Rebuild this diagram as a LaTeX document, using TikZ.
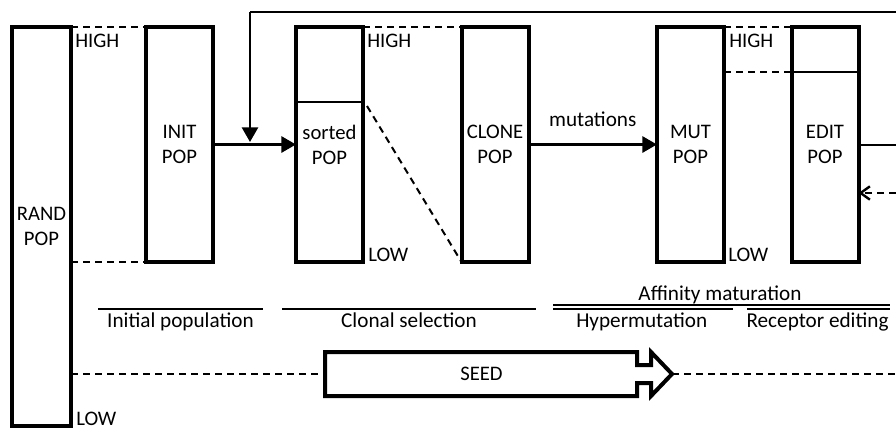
\documentclass[tikz,border=0pt]{standalone}
\usepackage{fontspec}
\setmainfont{Carlito}
\usetikzlibrary{arrows.meta}
\tikzset{
  px/.style={x=0.75pt,y=-0.75pt},
  popbox/.style={draw,line width=3pt,rectangle,minimum width=50.25pt,minimum height=176.25pt,
    inner sep=0pt,outer sep=0pt,align=center,font=\fontsize{15.5}{18.75}\selectfont},
  lvl/.style={anchor=west,inner sep=0pt,font=\fontsize{15.5}{18}\selectfont},
  sect/.style={anchor=base,inner sep=0pt,font=\fontsize{15.9}{18}\selectfont},
  dsh/.style={line width=1.5pt,dash pattern=on 5.2pt off 3.8pt},
  thinl/.style={line width=1.5pt},
  flow/.style={line width=2.2pt,-{Triangle[length=11pt,width=12pt]}},
}
\begin{document}
\begin{tikzpicture}[px]
\useasboundingbox (0,0) rectangle (896,429);
% boxes
\node[popbox,minimum width=44.25pt,minimum height=299.25pt] (rand) at (41.5,226.5) {RAND\\POP};
\node[popbox] (init) at (179.5,144.5) {INIT\\POP};
\node[popbox] (sorted) at (329.5,144.5) {sorted\\POP};
\node[popbox] (clone) at (495,144.5) {CLONE\\POP};
\node[popbox] (mut) at (690.5,144.5) {MUT\\POP};
\node[popbox] (edit) at (825,144.5) {EDIT\\POP};
% level labels
\node[lvl] (h1) at (75,41) {HIGH};
\node[lvl] (h2) at (367,41) {HIGH};
\node[lvl] (h3) at (729,41) {HIGH};
\node[lvl] (l1) at (368,255) {LOW};
\node[lvl] (l2) at (728,255) {LOW};
\node[lvl] (l3) at (76,419) {LOW};
% dashed level connectors
\draw[dsh] (rand.north east) -- (init.north west);
\draw[dsh] (init.south west -| rand.east) -- (init.south west);
\draw[dsh] (sorted.north east) -- (clone.north west);
\draw[dsh] (mut.north east) -- (edit.north west);
% dividers
\coordinate (sdiv) at (329.5,102);
\coordinate (ediv) at (825,72);
\draw[thinl] (sorted.west |- sdiv) -- (sorted.east |- sdiv);
\draw[thinl] (edit.west |- ediv) -- (edit.east |- ediv);
\draw[dsh] (mut.east |- ediv) -- (edit.west |- ediv);
\draw[dsh] ([xshift=3pt,yshift=-3pt]sorted.east |- sdiv) -- (clone.south west);
% main flow
\draw[flow] (init.east) -- (sorted.west);
\draw[flow] (clone.east) -- node[midway,above=12pt,inner sep=0pt,font=\fontsize{15.9}{18}\selectfont] (mlab) {mutations} (mut.west);
% feedback loop
\coordinate (fbR) at (896,12);
\coordinate (fbT) at (250,12);
\coordinate (fbE) at (250,142);
\draw[thinl] (fbR) -- (fbT);
\draw[flow,line width=2pt] (fbT) -- (fbE);
\coordinate (outE) at (896,144.5);
\draw[thinl] (edit.east) -- (outE);
\coordinate (inE) at (896,193);
\draw[dsh,line width=1.8pt,-{Straight Barb[length=7pt,width=10pt,line width=1.8pt]}] (inE) -- (inE -| edit.east);
% section labels
\draw[thinl] (98,309.3) -- (263,309.3);
\node[sect] (s1) at (180.5,327.3) {Initial population};
\draw[thinl] (282,309.3) -- (536,309.3);
\node[sect] (s2) at (409,327.3) {Clonal selection};
\draw[thinl] (553,305) -- (890,305);
\node[sect] (s3) at (720,300) {Affinity maturation};
\draw[thinl] (553,309.3) -- (733,309.3);
\node[sect] (s4) at (641.7,327.3) {Hypermutation};
\draw[thinl] (747,309.3) -- (890,309.3);
\node[sect] (s5) at (817.5,327.3) {Receptor editing};
% seed arrow
\draw[line width=3pt,line join=miter] (325,352) -- (637,352) -- (637,365) -- (651,365) -- (651,352)
  -- (672,374) -- (651,396) -- (651,383) -- (637,383) -- (637,396) -- (325,396) -- cycle;
\node[inner sep=0pt,font=\fontsize{15.5}{18}\selectfont] (seed) at (481.5,374) {SEED};
\coordinate (seedL) at (325,374);
\coordinate (seedT) at (672,374);
\coordinate (seedR) at (896,374);
\draw[dsh] (seedL -| rand.east) -- (seedL);
\draw[dsh] (seedT) -- (seedR);
\end{tikzpicture}
\end{document}
